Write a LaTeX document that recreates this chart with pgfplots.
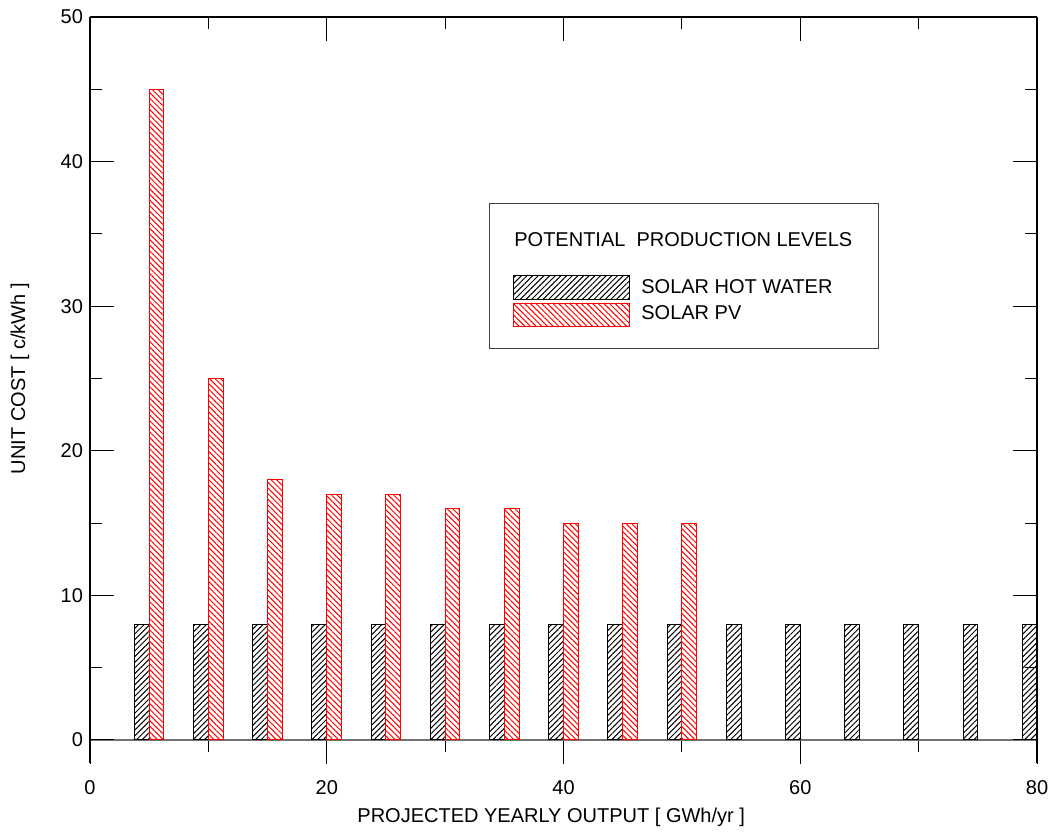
\documentclass[border=0pt]{standalone}
\usepackage{fontspec}
\setmainfont{Liberation Sans}
\usepackage{pgfplots}
\usepackage{pgfplotstable}
\pgfplotsset{compat=1.18}
\usetikzlibrary{patterns.meta}

\pgfplotstableread{
x y
5 8
10 8
15 8
20 8
25 8
30 8
35 8
40 8
45 8
50 8
55 8
60 8
65 8
70 8
75 8
80 8
}\hotwater

\pgfplotstableread{
x y
5 45
10 25
15 18
20 17
25 17
30 16
35 16
40 15
45 15
50 15
}\pv

\begin{document}
\begin{tikzpicture}
\path[use as bounding box] (-45pt,-34pt) rectangle (481pt,381.5pt);
\pgfplotsset{common/.style={
  scale only axis, width=473.5pt, height=373pt,
  xmin=0, xmax=80, ymin=-1.6, ymax=50,
  major tick length=12pt, minor tick length=6pt,
  /pgf/number format/assume math mode=true,
  tick label style={font=\fontsize{10}{12}\selectfont},
  every tick/.style={black, line width=0.5pt},
}}
\begin{axis}[common,
  axis x line*=middle, axis y line=none,
  xtick={0,20,...,80}, minor x tick num=1,
  xtick align=outside, hide obscured x ticks=false,
  x axis line style={draw=black!55, line width=0.9pt},
  xticklabel style={yshift=-5pt},
  xlabel={PROJECTED YEARLY OUTPUT [ GWh/yr ]},
  xlabel style={at={(axis description cs:0.487,0)}, anchor=center, yshift=-27pt, font=\fontsize{10}{12}\selectfont},
]
\addplot[ybar, bar width=1.25, bar shift=-0.625, draw=black, line width=0.5pt,
  pattern={Lines[angle=45,distance=2pt,line width=0.5pt]}, pattern color=black]
  table[x=x,y=y]{\hotwater};
\addplot[ybar, bar width=1.25, bar shift=0.625, draw=red, line width=0.5pt,
  pattern={Lines[angle=-45,distance=2pt,line width=0.5pt]}, pattern color=red]
  table[x=x,y=y]{\pv};
\end{axis}
\begin{axis}[common,
  axis x line*=top, axis y line*=box,
  xtick={0,20,...,80}, minor x tick num=1, xticklabels={},
  ytick={0,10,...,50}, minor y tick num=1,
  tick align=inside,
  axis line style={black, line width=0.6pt},
  ylabel={UNIT COST [ c/kWh ]},
  ylabel style={at={(axis description cs:-0.074,0.5154)}, anchor=center, font=\fontsize{10}{12}\selectfont},
]
\draw[black!75, line width=0.5pt] (rel axis cs:0.4217,0.5559) rectangle (rel axis cs:0.8324,0.7503);
\node[anchor=west, inner sep=0pt, font=\fontsize{10}{12}\selectfont] at (rel axis cs:0.4477,0.702) {POTENTIAL\ \ PRODUCTION LEVELS};
\draw[black, line width=0.5pt, pattern={Lines[angle=45,distance=2pt,line width=0.5pt]}, pattern color=black]
  (rel axis cs:0.4477,0.6219) rectangle (rel axis cs:0.5692,0.6532);
\node[anchor=west, inner sep=0pt, font=\fontsize{10}{12}\selectfont] at (rel axis cs:0.5818,0.638) {SOLAR HOT WATER};
\draw[red, line width=0.5pt, pattern={Lines[angle=-45,distance=2pt,line width=0.5pt]}, pattern color=red]
  (rel axis cs:0.4477,0.5847) rectangle (rel axis cs:0.5692,0.6160);
\node[anchor=west, inner sep=0pt, font=\fontsize{10}{12}\selectfont] at (rel axis cs:0.5818,0.6032) {SOLAR PV};
\end{axis}
\end{tikzpicture}
\end{document}
